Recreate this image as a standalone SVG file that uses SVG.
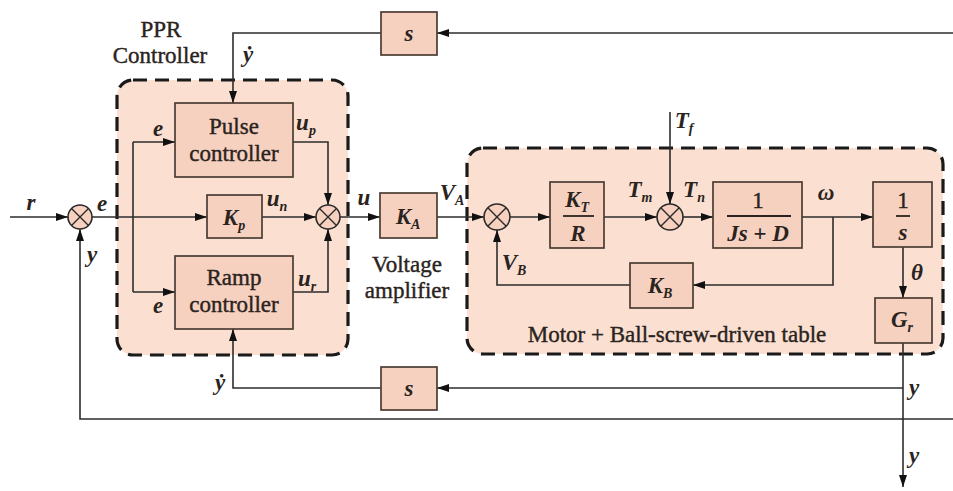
<svg xmlns="http://www.w3.org/2000/svg" width="953" height="491" viewBox="0 0 953 491">
<style>
.region{fill:#fbe0d2;stroke:#1a1a1a;stroke-width:3.2;stroke-dasharray:14 8}
.box{fill:#f6d1bf;stroke:#4a3c34;stroke-width:1.7}
.sum circle{fill:#f6d1bf;stroke:#2a2a2a;stroke-width:1.6}
.sum path{stroke:#2a2a2a;stroke-width:1.4;fill:none}
.wire{fill:none;stroke:#2d2d2d;stroke-width:1.6}
.t{font-family:"Liberation Serif","Times New Roman",serif;font-size:23px;fill:#2a2320;stroke:#2a2320;stroke-width:0.4;text-anchor:middle}
.m{font-family:"Liberation Serif","Times New Roman",serif;font-style:italic;font-weight:bold;font-size:23px;fill:#2a2320;text-anchor:middle}
.sub{font-size:14px}
</style>
<defs>
<marker id="a" viewBox="0 0 12 8" refX="12" refY="4" markerWidth="12" markerHeight="8" markerUnits="userSpaceOnUse" orient="auto"><path d="M0,0 L12,4 L0,8 z" fill="#111"/></marker>
</defs>
<rect width="953" height="491" fill="#fff"/>

<g id="ppr-region">
<rect class="region" x="117" y="80" width="231" height="275" rx="16"/>
<text class="t" x="161" y="37">PPR</text>
<text class="t" x="160" y="63">Controller</text>
</g>
<g id="motor-region">
<rect class="region" x="467" y="148" width="476" height="206" rx="16"/>
<text class="t" x="677" y="342">Motor + Ball-screw-driven table</text>
</g>

<g id="connectors">
<path class="wire" d="M10,217 H68" marker-end="url(#a)"/>
<path class="wire" d="M92,217 H207" marker-end="url(#a)"/>
<path class="wire" d="M133,142 V292"/>
<path class="wire" d="M133,142 H175" marker-end="url(#a)"/>
<path class="wire" d="M133,292 H175" marker-end="url(#a)"/>
<path class="wire" d="M293,142 H328 V205" marker-end="url(#a)"/>
<path class="wire" d="M262,217 H316" marker-end="url(#a)"/>
<path class="wire" d="M293,292 H328 V229" marker-end="url(#a)"/>
<path class="wire" d="M340,217 H380" marker-end="url(#a)"/>
<path class="wire" d="M437,217 H484" marker-end="url(#a)"/>
<path class="wire" d="M510,217 H550" marker-end="url(#a)"/>
<path class="wire" d="M604,217 H657" marker-end="url(#a)"/>
<path class="wire" d="M670,112 V204" marker-end="url(#a)"/>
<path class="wire" d="M683,217 H713" marker-end="url(#a)"/>
<path class="wire" d="M802,217 H873" marker-end="url(#a)"/>
<path class="wire" d="M833,217 V285 H693" marker-end="url(#a)"/>
<path class="wire" d="M630,285 H497 V230" marker-end="url(#a)"/>
<path class="wire" d="M903,247 V298" marker-end="url(#a)"/>
<path class="wire" d="M903,343 V487" marker-end="url(#a)"/>
<path class="wire" d="M903,388 H437" marker-end="url(#a)"/>
<path class="wire" d="M381,388 H233 V329" marker-end="url(#a)"/>
<path class="wire" d="M953,33 H437" marker-end="url(#a)"/>
<path class="wire" d="M381,33 H233 V103" marker-end="url(#a)"/>
<path class="wire" d="M953,419 H80 V229" marker-end="url(#a)"/>
</g>

<g id="sum1" class="sum"><circle cx="80" cy="217" r="12"/><path d="M71.5,208.5 L88.5,225.5 M88.5,208.5 L71.5,225.5"/></g>
<g id="sum2" class="sum"><circle cx="328" cy="217" r="12"/><path d="M319.5,208.5 L336.5,225.5 M336.5,208.5 L319.5,225.5"/></g>
<g id="sum3" class="sum"><circle cx="497" cy="217" r="13"/><path d="M487.8,207.8 L506.2,226.2 M506.2,207.8 L487.8,226.2"/></g>
<g id="sum4" class="sum"><circle cx="670" cy="217" r="13"/><path d="M660.8,207.8 L679.2,226.2 M679.2,207.8 L660.8,226.2"/></g>

<g id="pulse"><rect class="box" x="175" y="103" width="118" height="74"/><text class="t" x="234" y="134">Pulse</text><text class="t" x="234" y="161">controller</text></g>
<g id="kp"><rect class="box" x="207" y="195" width="55" height="43"/><text class="m" x="234" y="225">K<tspan class="sub" dy="5">p</tspan></text></g>
<g id="ramp"><rect class="box" x="175" y="256" width="118" height="73"/><text class="t" x="234" y="285">Ramp</text><text class="t" x="234" y="312">controller</text></g>
<g id="ka"><rect class="box" x="380" y="193" width="57" height="45"/><text class="m" x="408" y="224">K<tspan class="sub" dy="5">A</tspan></text></g>
<g id="amp-label"><text class="t" x="407" y="272">Voltage</text><text class="t" x="407" y="298">amplifier</text></g>
<g id="s-top"><rect class="box" x="381" y="12" width="56" height="43"/><text class="m" x="409" y="41">s</text></g>
<g id="s-bottom"><rect class="box" x="381" y="367" width="56" height="43"/><text class="m" x="409" y="396">s</text></g>
<g id="ktr"><rect class="box" x="550" y="182" width="54" height="66"/><text class="m" x="577" y="207">K<tspan class="sub" dy="5">T</tspan></text><path d="M563,216 H594" stroke="#2a2320" stroke-width="1.8"/><text class="m" x="578" y="241">R</text></g>
<g id="plant"><rect class="box" x="713" y="182" width="89" height="66"/><text class="t" x="758" y="208">1</text><path d="M727,216 H791" stroke="#2a2320" stroke-width="1.8"/><text class="m" x="758" y="241">Js + D</text></g>
<g id="integ"><rect class="box" x="873" y="182" width="59" height="65"/><text class="t" x="903" y="208">1</text><path d="M896,216 H910" stroke="#2a2320" stroke-width="1.8"/><text class="m" x="903" y="240">s</text></g>
<g id="kb"><rect class="box" x="630" y="263" width="63" height="45"/><text class="m" x="660" y="293">K<tspan class="sub" dy="5">B</tspan></text></g>
<g id="gr"><rect class="box" x="875" y="298" width="57" height="45"/><text class="m" x="902" y="327">G<tspan class="sub" dy="5">r</tspan></text></g>

<g id="labels">
<text class="m" x="31" y="210">r</text>
<text class="m" x="102" y="211">e</text>
<text class="m" x="92" y="262">y</text>
<text class="m" x="158" y="136">e</text>
<text class="m" x="158" y="313">e</text>
<text class="m" x="248" y="62">ẏ</text>
<text class="m" x="220" y="390">ẏ</text>
<text class="m" x="306" y="130">u<tspan class="sub" dy="5">p</tspan></text>
<text class="m" x="277" y="206">u<tspan class="sub" dy="5">n</tspan></text>
<text class="m" x="307" y="286">u<tspan class="sub" dy="5">r</tspan></text>
<text class="m" x="364" y="205">u</text>
<text class="m" x="452" y="200">V<tspan class="sub" dy="5">A</tspan></text>
<text class="m" x="640" y="197">T<tspan class="sub" dy="5">m</tspan></text>
<text class="m" x="694" y="197">T<tspan class="sub" dy="5">n</tspan></text>
<text class="m" x="684" y="128">T<tspan class="sub" dy="5">f</tspan></text>
<text class="m" x="826" y="200">ω</text>
<text class="m" x="514" y="270">V<tspan class="sub" dy="5">B</tspan></text>
<text class="m" x="917" y="280">θ</text>
<text class="m" x="914" y="395">y</text>
<text class="m" x="914" y="463">y</text>
</g>
</svg>
